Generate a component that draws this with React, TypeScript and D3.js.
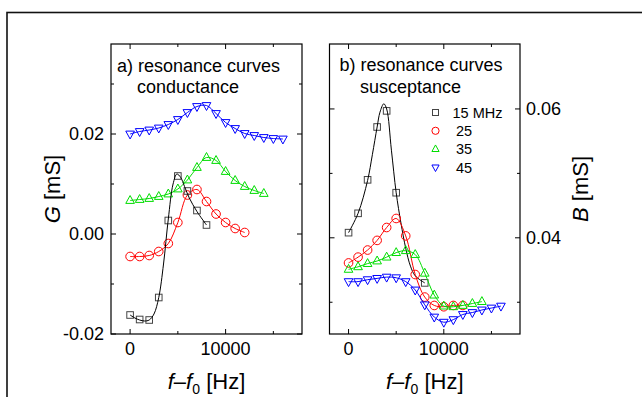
import React from "react";
import * as d3 from "d3";

// ---------- data ----------
const freqSteps = [0, 1000, 2000, 3000, 4000, 5000, 6000, 7000, 8000, 9000, 10000, 11000, 12000, 13000, 14000, 15000, 16000];

// Panel a) conductance G [mS]
const G15 = [-0.0162, -0.0171, -0.0172, -0.0127, 0.0027, 0.0116, 0.0086, 0.0047, 0.0018];
const G25 = [-0.0045, -0.0045, -0.0043, -0.0035, -0.0019, 0.0023, 0.0078, 0.0089, 0.0065, 0.0040, 0.0023, 0.0011, 0.0003];
const G35 = [0.0067, 0.0069, 0.0071, 0.0075, 0.0080, 0.0090, 0.0108, 0.0133, 0.0153, 0.0147, 0.0125, 0.0107, 0.0095, 0.0087, 0.0081];
const G45 = [0.0200, 0.0205, 0.0208, 0.0212, 0.0219, 0.0229, 0.0243, 0.0255, 0.0257, 0.0241, 0.0223, 0.0211, 0.0201, 0.0197, 0.0193, 0.0191, 0.0190];
const G15fitF = [0, 500, 1000, 1500, 2000, 2500, 3000, 3500, 4000, 4500, 4900, 5300, 5700, 6200, 7000, 8000];
const G15fit = [-0.0162, -0.0168, -0.0172, -0.0174, -0.0172, -0.0160, -0.0127, -0.0060, 0.0030, 0.0100, 0.0120, 0.0113, 0.0095, 0.0072, 0.0045, 0.0018];

// Panel b) susceptance B [mS]
const B15F = [0, 1000, 2000, 3000, 4000, 5000, 8000];
const B15 = [0.0408, 0.0438, 0.0490, 0.0572, 0.0597, 0.0470, 0.0330];
const B25 = [0.0361, 0.0370, 0.0381, 0.0396, 0.0416, 0.0430, 0.0403, 0.0343, 0.0308, 0.0295, 0.0293, 0.0295, 0.0295];
const B35 = [0.0351, 0.0355, 0.0360, 0.0364, 0.0370, 0.0377, 0.0380, 0.0374, 0.0345, 0.0311, 0.0294, 0.0293, 0.0295, 0.0298, 0.0301];
const B45 = [0.0332, 0.0332, 0.0335, 0.0337, 0.0339, 0.0338, 0.0332, 0.0319, 0.0296, 0.0277, 0.0269, 0.0273, 0.0281, 0.0284, 0.0288, 0.0291, 0.0294];
const B15fitF = [0, 1000, 2000, 2500, 3000, 3300, 3700, 4000, 4500, 5000, 5500, 6000, 6500, 7000, 8000];
const B15fit = [0.0408, 0.0438, 0.0489, 0.0529, 0.0572, 0.0595, 0.0608, 0.0600, 0.0536, 0.0470, 0.0423, 0.0384, 0.0356, 0.0341, 0.0330];

const legendLabels = ["15 MHz", "25", "35", "45"];
const xTicks = [0, 10000];
const xMinor = [5000, 15000];
const gTicks = [-0.02, 0.0, 0.02];
const gMinor = [-0.01, 0.01, 0.03];
const bTicks = [0.04, 0.06];
const bMinor = [0.03, 0.05];

// ---------- styling ----------
const COLORS = ["#000000", "#ff0000", "#00dd00", "#0000ff"];
const MARKER_STROKE = ["#444444", "#ff0000", "#00dd00", "#0000ff"];
const SHAPES = ["square", "circle", "up", "down"];
const FONT = "Arial, 'Liberation Sans', Helvetica, sans-serif";

function Marker({ shape, x, y, s, color }: { shape: string; x: number; y: number; s: number; color: string }) {
  const common = { fill: "none", stroke: color, strokeWidth: 1 };
  if (shape === "square") return <rect x={x - s} y={y - s} width={2 * s} height={2 * s} {...common} />;
  if (shape === "circle") return <circle cx={x} cy={y} r={s * 1.2} {...common} />;
  const h = s * 1.15;
  if (shape === "up")
    return <path d={`M${x - s * 1.2},${y + h * 0.7} L${x + s * 1.2},${y + h * 0.7} L${x},${y - h * 1.2} Z`} {...common} />;
  return <path d={`M${x - s * 1.2},${y - h * 0.7} L${x + s * 1.2},${y - h * 0.7} L${x},${y + h * 1.2} Z`} {...common} />;
}

type Panel = {
  left: number;
  right: number;
  top: number;
  bottom: number;
  yDomain: [number, number];
};

function Frame({ p, x, y, ticks, minor }: any) {
  const items: any[] = [];
  const maj = 5, mn = 3;
  xTicks.forEach((t) => {
    items.push(<line key={"xb" + t} x1={x(t)} x2={x(t)} y1={p.bottom} y2={p.bottom - maj} stroke="#000" />);
    items.push(<line key={"xt" + t} x1={x(t)} x2={x(t)} y1={p.top} y2={p.top + maj} stroke="#000" />);
  });
  xMinor.forEach((t) => {
    items.push(<line key={"xbm" + t} x1={x(t)} x2={x(t)} y1={p.bottom} y2={p.bottom - mn} stroke="#000" />);
    items.push(<line key={"xtm" + t} x1={x(t)} x2={x(t)} y1={p.top} y2={p.top + mn} stroke="#000" />);
  });
  ticks.forEach((t: number) => {
    items.push(<line key={"yl" + t} x1={p.left} x2={p.left + maj} y1={y(t)} y2={y(t)} stroke="#000" />);
    items.push(<line key={"yr" + t} x1={p.right} x2={p.right - maj} y1={y(t)} y2={y(t)} stroke="#000" />);
  });
  minor.forEach((t: number) => {
    items.push(<line key={"ylm" + t} x1={p.left} x2={p.left + mn} y1={y(t)} y2={y(t)} stroke="#000" />);
    items.push(<line key={"yrm" + t} x1={p.right} x2={p.right - mn} y1={y(t)} y2={y(t)} stroke="#000" />);
  });
  return (
    <g>
      <rect x={p.left} y={p.top} width={p.right - p.left} height={p.bottom - p.top} fill="none" stroke="#000" strokeWidth={1.2} />
      {items}
      {xTicks.map((t) => (
        <text key={"xl" + t} x={x(t)} y={p.bottom + 21} textAnchor="middle" fontSize={18} fontFamily={FONT}>
          {t}
        </text>
      ))}
    </g>
  );
}

function Series({ xs, ys, x, y, i, fitX, fitY }: any) {
  const line = d3
    .line<[number, number]>()
    .x((d) => x(d[0]))
    .y((d) => y(d[1]))
    .curve(d3.curveCatmullRom.alpha(0.5));
  const pts: [number, number][] = ys.map((v: number, k: number) => [xs[k], v]);
  const linePts: [number, number][] = fitX ? fitY.map((v: number, k: number) => [fitX[k], v]) : pts;
  const s = SHAPES[i] === "square" ? 3.3 : 3.6;
  return (
    <g>
      {pts.map((d, k) => (
        <Marker key={k} shape={SHAPES[i]} x={x(d[0])} y={y(d[1])} s={s} color={MARKER_STROKE[i]} />
      ))}
      <path d={line(linePts) || ""} fill="none" stroke={COLORS[i]} strokeWidth={1} />
    </g>
  );
}

export default function App() {
  const pA: Panel = { left: 111, right: 302, top: 44, bottom: 334, yDomain: [-0.02, 0.038] };
  const pB: Panel = { left: 329.5, right: 520, top: 44, bottom: 334, yDomain: [0.02507, 0.07008] };

  const xA = d3.scaleLinear().domain([-2000, 18000]).range([pA.left, pA.right]);
  const yA = d3.scaleLinear().domain(pA.yDomain).range([pA.bottom, pA.top]);
  const xB = d3.scaleLinear().domain([-2000, 18000]).range([pB.left, pB.right]);
  const yB = d3.scaleLinear().domain(pB.yDomain).range([pB.bottom, pB.top]);

  const gSeries = [G15, G25, G35, G45];
  const bSeries = [B15, B25, B35, B45];

  const gLabel = (t: number) => (t < 0 ? "-" : "") + Math.abs(t).toFixed(2);

  return (
    <svg width={642} height={397} style={{ position: "absolute", left: 0, top: 0, background: "#fff" }} fontFamily={FONT}>
      <rect x={0} y={0} width={642} height={397} fill="#fff" />
      <rect x={7} y={12.5} width={660} height={420} fill="none" stroke="#111" strokeWidth={1.6} />

      {/* Panel a */}
      <Frame p={pA} x={xA} y={yA} ticks={gTicks} minor={gMinor} />
      {gTicks.map((t) => (
        <text key={t} x={pA.left - 7} y={yA(t)} dy="0.36em" textAnchor="end" fontSize={18}>
          {gLabel(t)}
        </text>
      ))}
      {[3, 2, 1].map((i) => (
        <Series key={i} xs={freqSteps} ys={gSeries[i]} x={xA} y={yA} i={i} />
      ))}
      <Series xs={freqSteps} ys={G15} x={xA} y={yA} i={0} fitX={G15fitF} fitY={G15fit} />
      <text x={117} y={71.5} fontSize={18}>a) resonance curves</text>
      <text x={137} y={93} fontSize={18}>conductance</text>

      {/* Panel b */}
      <Frame p={pB} x={xB} y={yB} ticks={bTicks} minor={bMinor} />
      {bTicks.map((t) => (
        <text key={t} x={pB.right + 6} y={yB(t)} dy="0.36em" textAnchor="start" fontSize={18}>
          {t.toFixed(2)}
        </text>
      ))}
      <Series xs={B15F} ys={B15} x={xB} y={yB} i={0} fitX={B15fitF} fitY={B15fit} />
      {[1, 2, 3].map((i) => (
        <Series key={i} xs={freqSteps} ys={bSeries[i]} x={xB} y={yB} i={i} />
      ))}
      <text x={339.5} y={71} fontSize={18}>b) resonance curves</text>
      <text x={360} y={93} fontSize={18}>susceptance</text>

      {/* legend */}
      {legendLabels.map((lab, i) => {
        const ly = 112.5 + i * 18.3;
        return (
          <g key={lab}>
            <Marker shape={SHAPES[i]} x={435.5} y={ly} s={3} color={MARKER_STROKE[i]} />
            <text x={i === 0 ? 452.5 : 456} y={ly} dy="0.36em" fontSize={14.5}>
              {lab}
            </text>
          </g>
        );
      })}

      {/* axis titles */}
      <text transform="translate(52,189) rotate(-90)" textAnchor="middle" dy="0.36em" fontSize={22}>
        <tspan fontStyle="italic">G</tspan> [mS]
      </text>
      <text transform="translate(580,189) rotate(-90)" textAnchor="middle" dy="0.36em" fontSize={22}>
        <tspan fontStyle="italic">B</tspan> [mS]
      </text>
      {[pA, pB].map((p, k) => (
        <text key={k} x={(p.left + p.right) / 2} y={389} textAnchor="middle" fontSize={22}>
          <tspan fontStyle="italic">f</tspan>–<tspan fontStyle="italic">f</tspan>
          <tspan fontSize={14} dy={5}>0</tspan>
          <tspan dy={-5}> [Hz]</tspan>
        </text>
      ))}
    </svg>
  );
}
